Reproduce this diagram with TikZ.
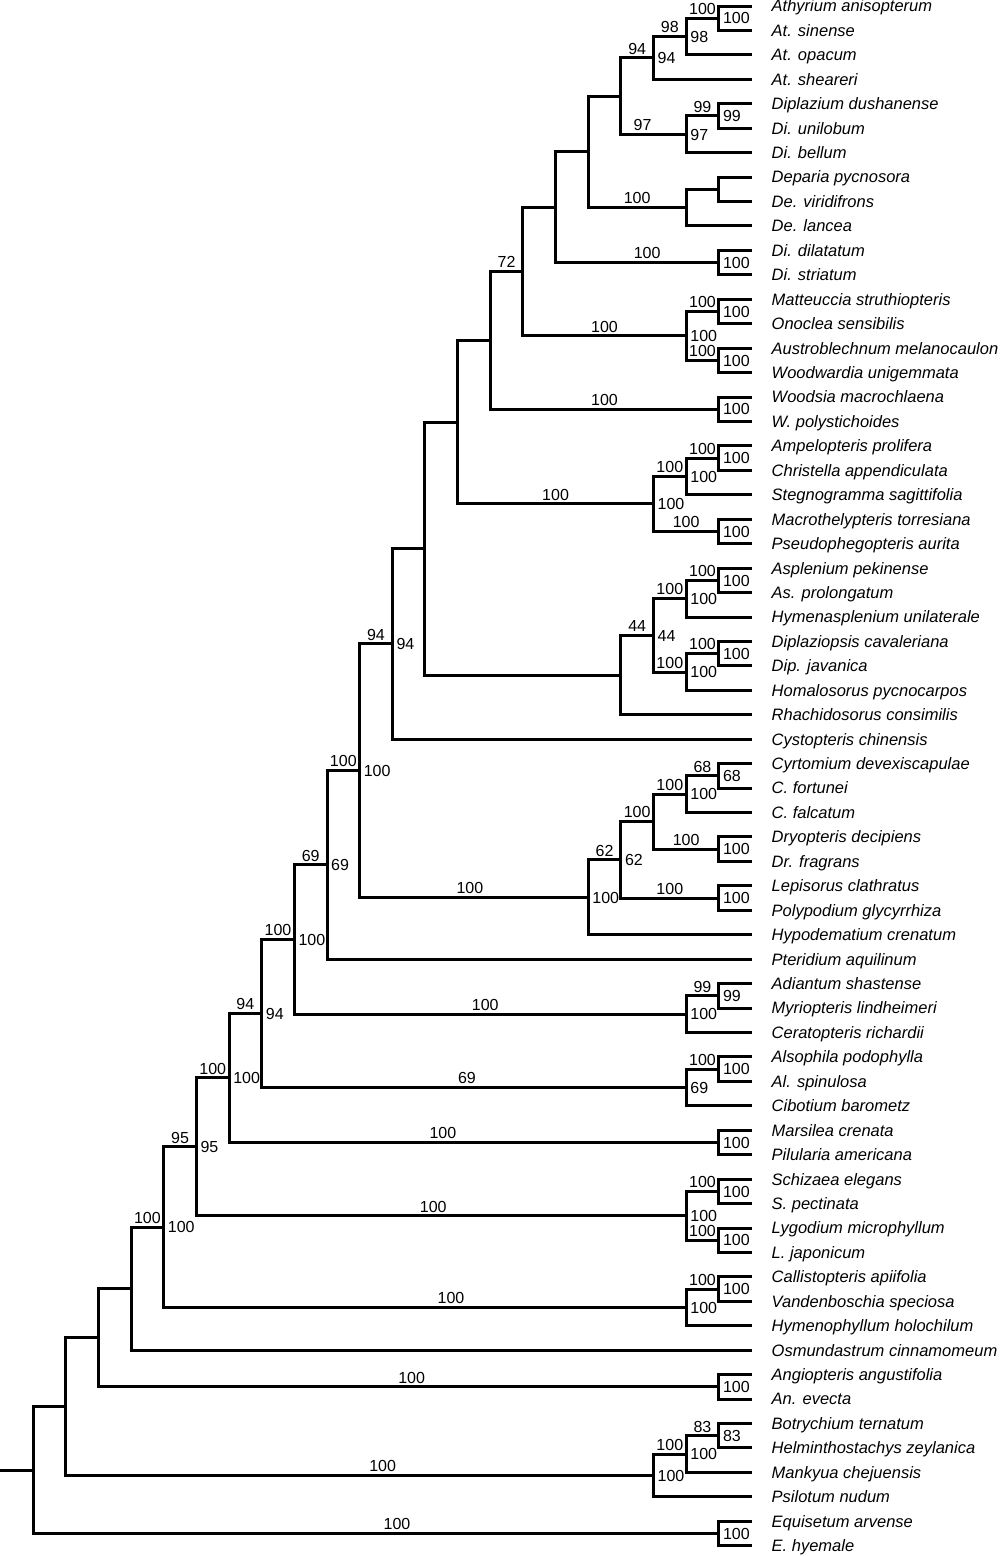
\documentclass[tikz,border=0pt]{standalone}
\usepackage{fontspec}
\setmainfont{Liberation Sans}
\usetikzlibrary{calc,positioning}

\tikzset{
  branch/.style={line width=3pt},
  taxon/.style={font=\fontsize{16.5}{18}\selectfont\itshape, inner sep=0pt, text height=11.8pt, text depth=0pt},
  bsup/.style={font=\fontsize{16}{18}\selectfont, inner sep=0pt, anchor=south, yshift=3.5pt, text height=11.4pt, text depth=0pt},
  nsup/.style={font=\fontsize{16}{18}\selectfont, inner sep=0pt, anchor=west, xshift=4pt, text height=11.4pt, text depth=0pt}
}
% clade: name, level, first child, second child
\newcommand{\clade}[4]{%
  \coordinate (mid) at ($(#3)!.5!(#4)$);
  \coordinate (#1) at (mid -| 32.65*#2+0.5,0);
  \draw[branch] (#3) -| (#1) |- (#4);
}

\begin{document}
\begin{tikzpicture}[x=1pt, y=-1pt]
  \useasboundingbox (0,0) rectangle (1000,1556);
  % tips and taxon names
  \foreach \lab [count=\i from 0] in {Athyrium anisopterum, At. sinense, At. opacum, At. sheareri,
    Diplazium dushanense, Di. unilobum, Di. bellum, Deparia pycnosora, De. viridifrons, De. lancea,
    Di. dilatatum, Di. striatum, Matteuccia struthiopteris, Onoclea sensibilis,
    Austroblechnum melanocaulon, Woodwardia unigemmata, Woodsia macrochlaena, W. polystichoides,
    Ampelopteris prolifera, Christella appendiculata, Stegnogramma sagittifolia,
    Macrothelypteris torresiana, Pseudophegopteris aurita, Asplenium pekinense, As. prolongatum,
    Hymenasplenium unilaterale, Diplaziopsis cavaleriana, Dip. javanica, Homalosorus pycnocarpos,
    Rhachidosorus consimilis, Cystopteris chinensis, Cyrtomium devexiscapulae, C. fortunei,
    C. falcatum, Dryopteris decipiens, Dr. fragrans, Lepisorus clathratus, Polypodium glycyrrhiza,
    Hypodematium crenatum, Pteridium aquilinum, Adiantum shastense, Myriopteris lindheimeri,
    Ceratopteris richardii, Alsophila podophylla, Al. spinulosa, Cibotium barometz,
    Marsilea crenata, Pilularia americana, Schizaea elegans, S. pectinata, Lygodium microphyllum,
    L. japonicum, Callistopteris apiifolia, Vandenboschia speciosa, Hymenophyllum holochilum,
    Osmundastrum cinnamomeum, Angiopteris angustifolia, An. evecta, Botrychium ternatum,
    Helminthostachys zeylanica, Mankyua chejuensis, Psilotum nudum, Equisetum arvense, E. hyemale}{
    \coordinate (t\i) at (751.5, 6+24.44*\i);
    \node[taxon, right=20pt of t\i] (l\i) {\lab};
  }
  % eupolypods II
  \clade{ath1}{22}{t0}{t1}
  \clade{ath2}{21}{ath1}{t2}
  \clade{ath3}{20}{ath2}{t3}
  \clade{dip1}{22}{t4}{t5}
  \clade{dip2}{21}{dip1}{t6}
  \clade{athdip}{19}{ath3}{dip2}
  \clade{dep1}{22}{t7}{t8}
  \clade{dep2}{21}{dep1}{t9}
  \clade{athy}{18}{athdip}{dep2}
  \clade{dil}{22}{t10}{t11}
  \clade{athyr}{17}{athy}{dil}
  \clade{ono1}{22}{t12}{t13}
  \clade{ble1}{22}{t14}{t15}
  \clade{onoble}{21}{ono1}{ble1}
  \clade{eup1}{16}{athyr}{onoble}
  \clade{woo}{22}{t16}{t17}
  \clade{eup2}{15}{eup1}{woo}
  \clade{the1}{22}{t18}{t19}
  \clade{the2}{21}{the1}{t20}
  \clade{the3}{22}{t21}{t22}
  \clade{the4}{20}{the2}{the3}
  \clade{eup3}{14}{eup2}{the4}
  \clade{asp1}{22}{t23}{t24}
  \clade{asp2}{21}{asp1}{t25}
  \clade{dpz1}{22}{t26}{t27}
  \clade{dpz2}{21}{dpz1}{t28}
  \clade{asp3}{20}{asp2}{dpz2}
  \clade{asp4}{19}{asp3}{t29}
  \clade{eup4}{13}{eup3}{asp4}
  \clade{eup5}{12}{eup4}{t30}
  % eupolypods I
  \clade{cyr1}{22}{t31}{t32}
  \clade{cyr2}{21}{cyr1}{t33}
  \clade{dry1}{22}{t34}{t35}
  \clade{dry2}{20}{cyr2}{dry1}
  \clade{pol}{22}{t36}{t37}
  \clade{eupI1}{19}{dry2}{pol}
  \clade{eupI2}{18}{eupI1}{t38}
  \clade{eup6}{11}{eup5}{eupI2}
  \clade{eup7}{10}{eup6}{t39}
  % the rest of the ferns
  \clade{pte1}{22}{t40}{t41}
  \clade{pte2}{21}{pte1}{t42}
  \clade{pol1}{9}{eup7}{pte2}
  \clade{cya1}{22}{t43}{t44}
  \clade{cya2}{21}{cya1}{t45}
  \clade{pol2}{8}{pol1}{cya2}
  \clade{mar}{22}{t46}{t47}
  \clade{pol3}{7}{pol2}{mar}
  \clade{sch1}{22}{t48}{t49}
  \clade{lyg}{22}{t50}{t51}
  \clade{schz}{21}{sch1}{lyg}
  \clade{pol4}{6}{pol3}{schz}
  \clade{hym1}{22}{t52}{t53}
  \clade{hym2}{21}{hym1}{t54}
  \clade{lep1}{5}{pol4}{hym2}
  \clade{lep2}{4}{lep1}{t55}
  \clade{ang}{22}{t56}{t57}
  \clade{lep3}{3}{lep2}{ang}
  \clade{oph1}{22}{t58}{t59}
  \clade{oph2}{21}{oph1}{t60}
  \clade{oph3}{20}{oph2}{t61}
  \clade{lep4}{2}{lep3}{oph3}
  \clade{equ}{22}{t62}{t63}
  \clade{root}{1}{lep4}{equ}
  \coordinate (stub) at (root -| 0,0);
  \draw[branch] (stub) -- (root);
  % support values: node / parent / on branch / at node / shift
  \foreach \c/\p/\a/\r/\dx in {ath1/ath2/100/100/0, ath2/ath3/98/98/0, ath3/athdip/94/94/0,
    dip1/dip2/99/99/0, dip2/athdip/97/97/-11, dep2/athy/100//0, dil/athyr/100/100/10,
    ono1/onoble/100/100/0, ble1/onoble/100/100/0, onoble/eup1/100/100/0, eup1/eup2/72//0,
    woo/eup2/100/100/0, the1/the2/100/100/0, the2/the4/100/100/0, the3/the4/100/100/0,
    the4/eup3/100/100/0, asp1/asp2/100/100/0, asp2/asp3/100/100/0, dpz1/dpz2/100/100/0,
    dpz2/asp3/100/100/0, asp3/asp4/44/44/0, eup5/eup6/94/94/0, cyr1/cyr2/68/68/0,
    cyr2/dry2/100/100/0, dry1/dry2/100/100/0, dry2/eupI1/100//0, pol/eupI1/100/100/0,
    eupI1/eupI2/62/62/0, eupI2/eup6/100/100/-4, eup6/eup7/100/100/0, eup7/pol1/69/69/0,
    pte1/pte2/99/99/0, pte2/pol1/100/100/-5, pol1/pol2/100/100/0, cya1/cya2/100/100/0,
    cya2/pol2/69/69/-7, pol2/pol3/94/94/0, mar/pol3/100/100/-31, pol3/pol4/100/100/0,
    sch1/schz/100/100/0, lyg/schz/100/100/0, schz/pol4/100/100/-8, pol4/lep1/95/95/0,
    hym1/hym2/100/100/0, hym2/lep1/100/100/26, lep1/lep2/100/100/0, ang/lep3/100/100/3,
    oph1/oph2/83/83/0, oph2/oph3/100/100/0, oph3/lep4/100/100/23, equ/root/100/100/21}{
    \coordinate (k) at (\p |- \c);
    \node[bsup, xshift=\dx] (a-\c) at ($(k)!.5!(\c)$) {\a};
    \node[nsup] (r-\c) at (\c) {\r};
  }
\end{tikzpicture}
\end{document}
